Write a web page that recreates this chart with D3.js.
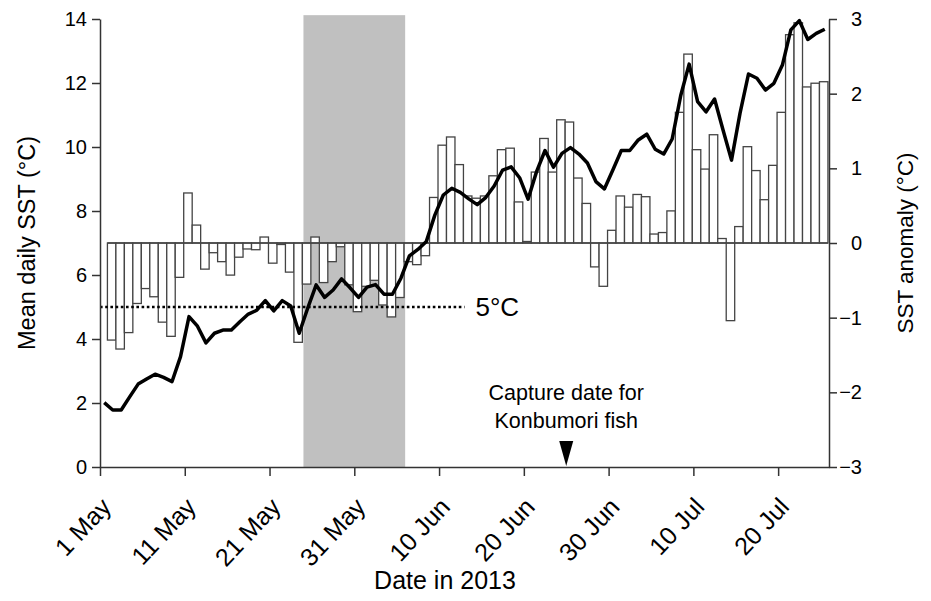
<!DOCTYPE html>
<html>
<head>
<meta charset="utf-8">
<script src="https://cdn.jsdelivr.net/npm/d3@7"></script>
<style>
  body { margin: 0; background: #fff; }
  svg text { font-family: "Liberation Sans", Arial, sans-serif; fill: #000; }
</style>
</head>
<body>
<svg id="chart" width="931" height="601"></svg>
<script>
// mean daily SST (°C), one value a day starting 1 May 2013
let sstStart = "2013-05-01";
let sstValues = [
    2.01, 1.78, 1.78, 2.19, 2.59, 2.75, 2.90, 2.80, 2.67, 3.45,
    4.70, 4.40, 3.88, 4.18, 4.28, 4.28, 4.54, 4.78, 4.90, 5.20,
    4.88, 5.20, 5.03, 4.18, 4.96, 5.69, 5.30, 5.53, 5.88, 5.60,
    5.30, 5.62, 5.70, 5.40, 5.40, 5.90, 6.60, 6.80, 7.05, 7.87,
    8.50, 8.71, 8.58, 8.38, 8.20, 8.42, 8.78, 9.28, 9.38, 9.04,
    8.37, 9.23, 9.89, 9.37, 9.80, 9.98, 9.78, 9.50, 8.92, 8.69,
    9.28, 9.89, 9.89, 10.22, 10.40, 9.93, 9.78, 10.25, 11.60, 12.59,
    11.42, 11.10, 11.50, 10.53, 9.59, 11.05, 12.28, 12.15, 11.78, 11.99,
    12.56, 13.66, 13.95, 13.36, 13.55, 13.68
];

// SST anomaly (°C), one bar a day starting 2 May 2013
let anomalyStart = "2013-05-02";
let anomalyValues = [
    -1.30, -1.42, -1.20, -0.81, -0.61, -0.72, -1.06, -1.25, -0.46, 0.67,
    0.24, -0.35, -0.13, -0.25, -0.43, -0.19, -0.08, -0.09, 0.08, -0.27,
    -0.02, -0.39, -1.33, -0.55, 0.08, -0.53, -0.25, -0.05, -0.56, -0.92,
    -0.58, -0.50, -0.83, -0.99, -0.73, -0.25, -0.29, -0.17, 0.61, 1.31,
    1.42, 1.05, 0.63, 0.60, 0.63, 0.90, 1.25, 1.27, 0.55, 0.02,
    0.95, 1.40, 0.95, 1.65, 1.62, 0.87, 0.53, -0.32, -0.58, 0.17,
    0.63, 0.48, 0.65, 0.62, 0.12, 0.14, 0.43, 1.75, 2.53, 1.25,
    0.99, 1.45, 0.06, -1.04, 0.22, 1.29, 0.97, 0.58, 1.04, 1.75,
    2.79, 2.95, 2.09, 2.14, 2.16
];

let tickDates  = ["2013-05-01", "2013-05-11", "2013-05-21", "2013-05-31", "2013-06-10",
                  "2013-06-20", "2013-06-30", "2013-07-10", "2013-07-20"];
let tickLabels = ["1 May", "11 May", "21 May", "31 May", "10 Jun", "20 Jun", "30 Jun", "10 Jul", "20 Jul"];
let sstTicks = [0, 2, 4, 6, 8, 10, 12, 14];
let anomalyTicks = [-3, -2, -1, 0, 1, 2, 3];

let shadeDates = ["2013-05-25", "2013-06-06"];
let captureDate = "2013-06-25";
let captureLines = ["Capture date for", "Konbumori fish"];
let thresholdSST = 5;
let thresholdDates = ["2013-05-01", "2013-06-13"];

let parse = d3.utcParse("%Y-%m-%d");
let sstDates = sstValues.map((v, i) => d3.utcDay.offset(parse(sstStart), i));
let anomalyDates = anomalyValues.map((v, i) => d3.utcDay.offset(parse(anomalyStart), i));

let chart = d3.select("#chart");
let plotLeft = 100, plotRight = 829, plotTop = 19, plotBottom = 467;

let x = d3.scaleUtc()
    .domain([parse("2013-05-01"), parse("2013-07-26")])
    .range([plotLeft, plotRight]);
let ySST = d3.scaleLinear().domain([0, 14]).range([plotBottom, plotTop]);
let yAnom = d3.scaleLinear().domain([-3, 3]).range([plotBottom, plotTop]);

chart.append("rect")
    .attr("width", 931).attr("height", 601)
    .attr("fill", "#fff");

// shaded period
chart.append("rect")
    .attr("x", x(parse(shadeDates[0])))
    .attr("y", ySST(14.12))
    .attr("width", x(parse(shadeDates[1])) - x(parse(shadeDates[0])))
    .attr("height", ySST(0) - ySST(14.12))
    .attr("fill", "#c0c0c0");

// anomaly bars
let barX = d => x(d3.utcHour.offset(d, -3));
chart.append("g")
    .selectAll("rect")
    .data(anomalyValues)
    .enter()
    .append("rect")
      .attr("x", (d, i) => barX(anomalyDates[i]))
      .attr("width", (d, i) => barX(d3.utcDay.offset(anomalyDates[i], 1)) - barX(anomalyDates[i]))
      .attr("y", d => yAnom(Math.max(d, 0)))
      .attr("height", d => Math.abs(yAnom(d) - yAnom(0)))
      .attr("fill", "#fff")
      .attr("stroke", "#444")
      .attr("stroke-width", 1.3);

chart.append("line")
    .attr("x1", barX(anomalyDates[0]))
    .attr("x2", barX(d3.utcDay.offset(anomalyDates[anomalyDates.length - 1], 1)))
    .attr("y1", yAnom(0)).attr("y2", yAnom(0))
    .attr("stroke", "#444")
    .attr("stroke-width", 1.5);

// 5 °C reference
chart.append("line")
    .attr("x1", x(parse(thresholdDates[0])))
    .attr("x2", x(parse(thresholdDates[1])))
    .attr("y1", ySST(thresholdSST)).attr("y2", ySST(thresholdSST))
    .attr("stroke", "#000")
    .attr("stroke-width", 2.6)
    .attr("stroke-dasharray", "2.6,2.6");

chart.append("text")
    .text(thresholdSST + "°C")
    .attr("x", x(parse(thresholdDates[1])) + 11)
    .attr("y", ySST(thresholdSST) + 9)
    .style("font-size", "26px");

// SST line
let line = d3.line()
    .x((d, i) => x(d3.utcHour.offset(sstDates[i], 12)))
    .y(d => ySST(d));
chart.append("path")
    .datum(sstValues)
    .attr("d", line)
    .attr("fill", "none")
    .attr("stroke", "#000")
    .attr("stroke-width", 3.5)
    .attr("stroke-linejoin", "round");

// axes
let leftAxis = chart.append("g")
    .attr("class", "axis")
    .attr("transform", "translate(" + plotLeft + ",0)")
    .call(d3.axisLeft(ySST).tickValues(sstTicks).tickSize(8).tickSizeOuter(0).tickPadding(5));

let rightAxis = chart.append("g")
    .attr("class", "axis")
    .attr("transform", "translate(" + plotRight + ",0)")
    .call(d3.axisRight(yAnom).tickValues(anomalyTicks).tickSize(8).tickSizeOuter(0).tickFormat(d3.format("d")));
rightAxis.selectAll("text")
    .attr("x", 33)
    .style("text-anchor", "end");

let bottomAxis = chart.append("g")
    .attr("class", "axis")
    .attr("transform", "translate(0," + plotBottom + ")")
    .call(d3.axisBottom(x).tickValues(tickDates.map(parse)).tickSize(9).tickSizeOuter(0)
        .tickFormat((d, i) => tickLabels[i]));

chart.selectAll(".axis path, .axis line")
    .attr("stroke", "#333")
    .attr("stroke-width", 1.5);
chart.selectAll(".axis text")
    .style("font-size", "20px")
    .style("font-family", "'Liberation Sans', Arial, sans-serif")
    .attr("fill", "#000");

bottomAxis.selectAll("text")
    .attr("x", 0).attr("y", 0).attr("dy", 0)
    .attr("transform", "translate(12,41) rotate(-47)")
    .style("text-anchor", "end")
    .style("font-size", "25px");

// capture date marker
let cx = x(parse(captureDate));
chart.append("path")
    .attr("d", d3.line()([[cx - 7, plotBottom - 26], [cx + 7, plotBottom - 26], [cx, plotBottom - 1]]) + "Z")
    .attr("fill", "#000");
chart.selectAll(".capture")
    .data(captureLines)
    .enter()
    .append("text")
      .attr("class", "capture")
      .text(d => d)
      .attr("x", cx)
      .attr("y", (d, i) => 400 + i * 28)
      .style("text-anchor", "middle")
      .style("font-size", "21.5px");

// axis titles
chart.append("text")
    .text("Mean daily SST (°C)")
    .attr("transform", "translate(35," + (plotTop + plotBottom) / 2 + ") rotate(-90)")
    .style("text-anchor", "middle")
    .style("font-size", "23.5px");

chart.append("text")
    .text("SST anomaly (°C)")
    .attr("transform", "translate(913," + (plotTop + plotBottom) / 2 + ") rotate(-90)")
    .style("text-anchor", "middle")
    .style("font-size", "22.5px");

chart.append("text")
    .text("Date in 2013")
    .attr("x", 445)
    .attr("y", 589)
    .style("text-anchor", "middle")
    .style("font-size", "25px");
</script>
</body>
</html>
